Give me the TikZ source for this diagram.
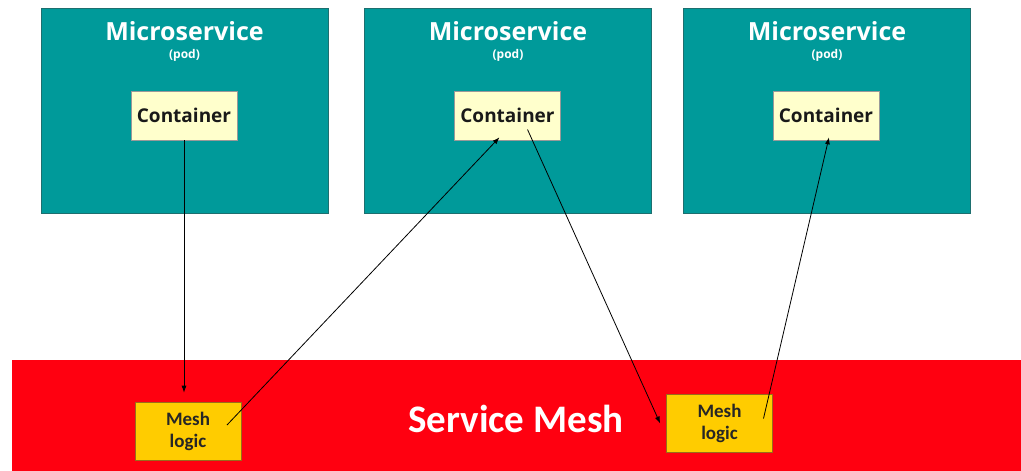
\documentclass[tikz,border=0pt]{standalone}
\usepackage{fontspec}
\setmainfont{Carlito}
\newfontfamily\podfont{Open Sans}
\usetikzlibrary{arrows.meta,calc}
\definecolor{podteal}{HTML}{009A9A}
\definecolor{podedge}{HTML}{1D6F6F}
\definecolor{contfill}{HTML}{FFFFCC}
\definecolor{meshfill}{HTML}{FFCC00}
\definecolor{meshedge}{HTML}{9A6A1A}
\definecolor{meshred}{HTML}{FF0010}
\tikzset{
  pod/.style={draw=podedge, line width=0.8pt, fill=podteal, minimum width=287pt, minimum height=205pt, inner sep=0pt},
  podtitle/.style={text=white, font=\podfont\bfseries\fontsize{25}{28}\selectfont, inner sep=0pt},
  podsub/.style={text=white, font=\podfont\bfseries\fontsize{12}{14}\selectfont, inner sep=0pt},
  contbox/.style={draw=black!40, line width=0.6pt, fill=contfill, minimum width=106pt, minimum height=49pt, inner sep=0pt, font=\podfont\bfseries\fontsize{19}{22}\selectfont, text=black!90},
  meshbox/.style={draw=meshedge, line width=0.6pt, fill=meshfill, minimum width=106pt, minimum height=58pt, inner sep=0pt, align=center, font=\bfseries\fontsize{19}{22}\selectfont, text=black!85},
  flow/.style={draw=black, line width=0.8pt, -{Latex[length=7pt,width=5pt]}}
}
\begin{document}
\begin{tikzpicture}[x=1pt,y=-1pt]
\useasboundingbox (0,0) rectangle (1021,471);
\fill[white] (0,0) rectangle (1021,471);

% service mesh band
\node[fill=meshred, minimum width=1009pt, minimum height=111pt, inner sep=0pt, anchor=north west] (band) at (12,360) {};
\node[text=white, font=\bfseries\fontsize{39}{44}\selectfont, inner sep=0pt] (bandlabel) at (516,419) {Service Mesh};

% pods
\foreach \i/\x in {1/184.5, 2/508, 3/827}{
  \node[pod] (pod\i) at (\x,110.5) {};
  \node[podtitle] (title\i) at (\x,31) {Microservice};
  \node[podsub] (sub\i) at (\x,55) {(pod)};
}
\node[contbox] (c1) at (184,115.5) {Container};
\node[contbox] (c2) at (507.5,115.5) {Container};
\node[contbox] (c3) at (826,115.5) {Container};

% mesh logic boxes
\node[meshbox] (m1) at (188,431) {Mesh\\logic};
\node[meshbox] (m2) at (719.5,423.5) {Mesh\\logic};

% connector ends inside the boxes
\coordinate (m1out) at ($(m1.center)+(39,-6)$);
\coordinate (c2out) at ($(c2.center)+(20,14)$);
\coordinate (m2out) at ($(m2.center)+(44,-5)$);

% flows
\draw[flow] (c1.south) -- ($(m1.north)+(-4,-9)$) coordinate (m1in);
\draw[flow] (m1out) -- ($(c2.south)+(-8,-3)$) coordinate (c2in);
\draw[flow] (c2out) -- ($(m2.west)+(-6,0)$) coordinate (m2in);
\draw[flow] (m2out) -- ($(c3.south)+(3,-3)$) coordinate (c3in);
\end{tikzpicture}
\end{document}
